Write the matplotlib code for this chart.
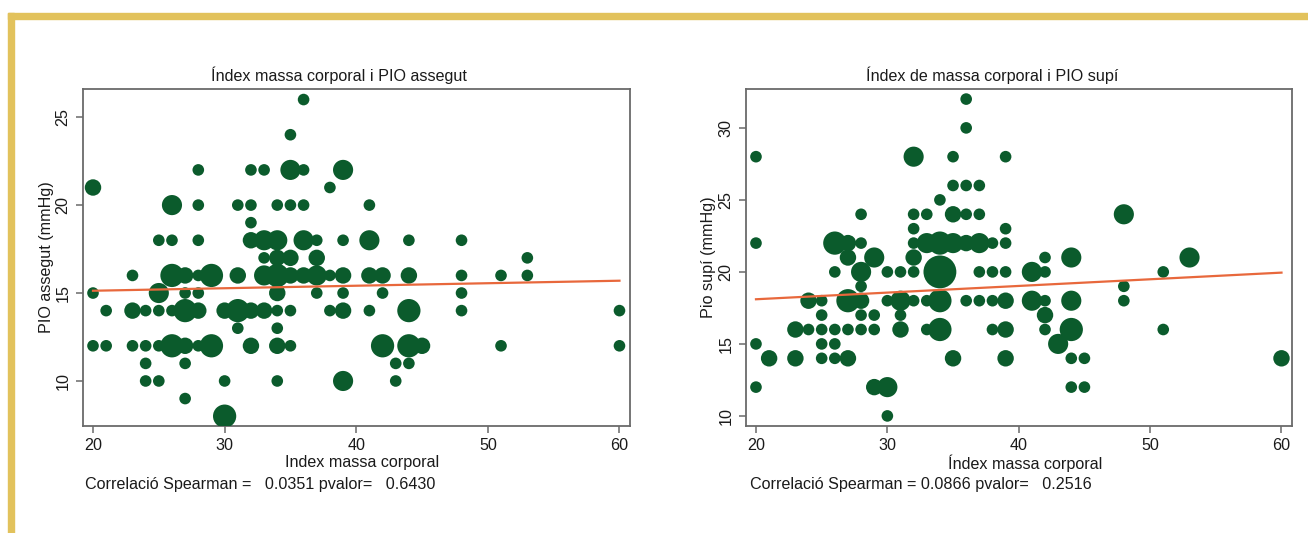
import numpy as np
import matplotlib.pyplot as plt
from matplotlib.patches import Rectangle

plt.rcParams['font.family'] = ['Liberation Sans', 'DejaVu Sans']

# seated IOP vs BMI: one entry per (bmi, iop) cell, n = number of patients
seated_bmi = [36,
              35,
              28, 32, 33, 35, 36, 39,
              20, 38,
              26, 28, 31, 32, 34, 35, 36, 41,
              32,
              25, 26, 28, 32, 33, 34, 36, 37, 39, 41, 44, 48,
              33, 34, 35, 37, 53,
              23, 26, 27, 28, 29, 31, 33, 34, 35, 36, 37, 38, 39, 41, 42, 44, 48, 51, 53,
              20, 25, 27, 28, 34, 37, 39, 42, 48,
              21, 23, 24, 25, 26, 27, 28, 30, 31, 32, 33, 34, 35, 38, 39, 41, 44, 48, 60,
              31, 34,
              20, 21, 23, 24, 25, 26, 27, 28, 29, 32, 34, 35, 42, 44, 45, 51, 60,
              24, 27, 43, 44,
              24, 25, 30, 34, 39, 43,
              27,
              30]
seated_iop = ([26] + [24] + [22] * 6 + [21] * 2 + [20] * 8 + [19] + [18] * 12 +
              [17] * 5 + [16] * 19 + [15] * 9 + [14] * 19 + [13] * 2 + [12] * 17 +
              [11] * 4 + [10] * 6 + [9] + [8])
seated_n = [1,
            1,
            1, 1, 1, 3, 1, 3,
            2, 1,
            3, 1, 1, 1, 1, 1, 1, 1,
            1,
            1, 1, 1, 2, 3, 3, 3, 1, 1, 3, 1, 1,
            1, 2, 2, 2, 1,
            1, 4, 2, 1, 4, 2, 3, 4, 2, 2, 3, 1, 2, 2, 2, 2, 1, 1, 1,
            1, 3, 1, 1, 2, 1, 1, 1, 1,
            1, 2, 1, 1, 1, 4, 2, 2, 4, 2, 2, 1, 1, 1, 2, 1, 4, 1, 1,
            1, 1,
            1, 1, 1, 1, 1, 4, 2, 1, 4, 2, 2, 1, 4, 4, 2, 1, 1,
            1, 1, 1, 1,
            1, 1, 1, 1, 3, 1,
            1,
            4]

# supine IOP vs BMI
supine_bmi = [36,
              36,
              20, 32, 35, 39,
              35, 36, 37,
              34,
              28, 32, 33, 35, 36, 37, 48,
              32, 39,
              20, 26, 27, 28, 32, 33, 34, 35, 36, 37, 38, 39,
              27, 29, 32, 42, 44, 53,
              26, 28, 30, 31, 32, 34, 37, 38, 39, 41, 42, 51,
              28, 48,
              24, 25, 27, 28, 30, 31, 32, 33, 34, 36, 37, 38, 39, 41, 42, 44, 48,
              25, 28, 29, 31, 42,
              23, 24, 25, 26, 27, 28, 29, 31, 33, 34, 38, 39, 42, 44, 51,
              20, 25, 26, 43,
              21, 23, 25, 26, 27, 35, 39, 44, 45, 60,
              20, 29, 30, 44, 45,
              30]
supine_iop = ([32] + [30] + [28] * 4 + [26] * 3 + [25] + [24] * 7 + [23] * 2 +
              [22] * 12 + [21] * 6 + [20] * 12 + [19] * 2 + [18] * 17 + [17] * 5 +
              [16] * 15 + [15] * 4 + [14] * 10 + [12] * 5 + [10])
supine_n = [1,
            1,
            1, 3, 1, 1,
            1, 1, 1,
            1,
            1, 1, 1, 2, 1, 1, 3,
            1, 1,
            1, 4, 2, 1, 1, 3, 4, 3, 2, 3, 1, 1,
            2, 3, 2, 1, 3, 3,
            1, 3, 1, 1, 1, 8, 1, 1, 1, 3, 1, 1,
            1, 1,
            2, 1, 4, 2, 1, 3, 1, 1, 4, 1, 1, 1, 2, 3, 1, 3, 1,
            1, 1, 1, 1, 2,
            2, 1, 1, 1, 1, 1, 1, 2, 1, 4, 1, 2, 1, 4, 1,
            1, 1, 1, 3,
            2, 2, 1, 1, 2, 2, 2, 1, 1, 2,
            1, 2, 3, 1, 1,
            1]

# linear fit lines (values at bmi 20 and 60)
fit_bmi = [20, 60]
seated_fit = [15.13, 15.70]
supine_fit = [18.10, 19.95]

W, H = 1308, 533
fig = plt.figure(figsize=(W / 100, H / 100), dpi=100)
fig.patch.set_facecolor('white')

# golden page frame
gold = '#e2c25c'
fig.patches.append(Rectangle((8 / W, 1 - 19 / H), 1 - 8 / W, 6 / H,
                             transform=fig.transFigure, color=gold, zorder=0))
fig.patches.append(Rectangle((8 / W, 0), 6 / W, 1 - 13 / H,
                             transform=fig.transFigure, color=gold, zorder=0))

green = '#0b5b2c'
orange = '#e8683c'
frame = '#6a6a6a'
ink = '#1a1a1a'
fs = 11.6


def panel(box, bmi, iop, n, fit, ylim, yticks, title, xlabel, ylabel, note,
          title_x, xlabel_x, ylabel_x, note_x):
    l, t, r, b = box
    ax = fig.add_axes([l / W, 1 - b / H, (r - l) / W, (b - t) / H])
    ax.scatter(bmi, iop, s=np.array(n) * 70, color=green, edgecolors='none',
               zorder=3)
    ax.plot(fit_bmi, fit, color=orange, lw=1.6, zorder=4)
    ax.set_xlim(19.24, 60.8)
    ax.set_ylim(*ylim)
    ax.set_xticks([20, 30, 40, 50, 60])
    ax.set_yticks(yticks)
    for s in ax.spines.values():
        s.set_color(frame)
        s.set_linewidth(1.3)
    ax.tick_params(colors=frame, length=5, width=1.1, labelcolor=ink,
                   labelsize=fs)
    ax.tick_params(axis='x', pad=3.5)
    ax.tick_params(axis='y', pad=4)
    for lab in ax.get_yticklabels():
        lab.set_rotation(90)
        lab.set_va('center')
    fig.text(title_x / W, 1 - 75 / H, title, ha='center', va='center',
             fontsize=fs, color=ink)
    fig.text(xlabel_x / W, 1 - 463 / H, xlabel, ha='center', va='center',
             fontsize=fs, color=ink)
    fig.text(ylabel_x / W, 1 - (t + b) / 2 / H, ylabel, ha='center',
             va='center', rotation=90, fontsize=fs, color=ink)
    fig.text(note_x / W, 1 - 485 / H, note, ha='left', va='center',
             fontsize=fs, color=ink)
    return ax


panel((83, 89, 630, 426), seated_bmi, seated_iop, seated_n, seated_fit,
      (7.44, 26.6), [10, 15, 20, 25],
      'Índex massa corporal i PIO assegut', 'Index massa corporal',
      'PIO assegut (mmHg)',
      'Correlació Spearman =   0.0351 pvalor=   0.6430',
      339, 362, 47, 85)

panel((746, 89, 1292, 426), supine_bmi, supine_iop, supine_n, supine_fit,
      (9.3, 32.7), [10, 15, 20, 25, 30],
      'Índex de massa corporal i PIO supí', 'Índex massa corporal',
      'Pio supí (mmHg)',
      'Correlació Spearman = 0.0866 pvalor=   0.2516',
      992, 1025, 709, 750)

fig.savefig('out.png', dpi=100, facecolor='white')
